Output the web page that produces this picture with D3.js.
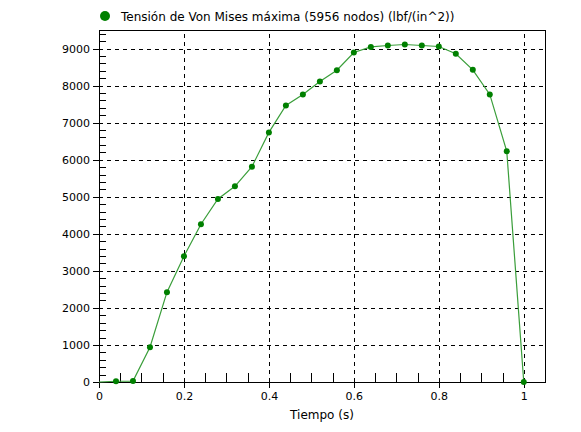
<!DOCTYPE html>
<html><head><meta charset="utf-8">
<script src="https://cdn.jsdelivr.net/npm/d3@7"></script>
<style>body{margin:0;background:#fff}svg{display:block}text{font-family:"DejaVu Sans",sans-serif;fill:#000}</style>
</head><body><svg id="c" width="581" height="432"></svg>
<script>
const times = [0,0.04,0.08,0.12,0.16,0.20,0.24,0.28,0.32,0.36,0.40,0.44,0.48,0.52,0.56,0.60,0.64,0.68,0.72,0.76,0.80,0.84,0.88,0.92,0.96,1.0];
const stress = [0,20,25,940,2425,3395,4258,4940,5282,5810,6737,7464,7761,8111,8416,8892,9044,9081,9108,9081,9054,8860,8424,7761,6225,0];
const xTicks = [0,0.2,0.4,0.6,0.8,1];
const yTicks = [0,1000,2000,3000,4000,5000,6000,7000,8000,9000];
const seriesName = "Tensión de Von Mises máxima (5956 nodos) (lbf/(in^2))";
const xTitle = "Tiempo (s)";

const svg = d3.select("#c");
const L=99, T=30, R=545, B=382;
const x = d3.scaleLinear().domain([0,1.05]).range([L,R]);
const y = d3.scaleLinear().domain([0,9500]).range([B,T]);

// grid
const g = svg.append("g").attr("stroke","#000").attr("stroke-dasharray","4,4").attr("shape-rendering","crispEdges");
xTicks.filter(d=>d>0).forEach(d=>g.append("line").attr("x1",Math.round(x(d))+0.5).attr("x2",Math.round(x(d))+0.5).attr("y1",B).attr("y2",T));
yTicks.filter(d=>d>0).forEach(d=>g.append("line").attr("y1",Math.round(y(d))+0.5).attr("y2",Math.round(y(d))+0.5).attr("x1",L).attr("x2",R));

// frame
svg.append("rect").attr("x",L+0.5).attr("y",T+0.5).attr("width",R-L).attr("height",B-T).attr("fill","none").attr("stroke","#000").attr("shape-rendering","crispEdges");

// x axis
const xAxis = d3.axisBottom(x).tickValues(xTicks).tickFormat(d=>d3.format("")(d)).tickSize(6).tickPadding(4);
svg.append("g").attr("transform",`translate(0,${B})`).call(xAxis);
const xMinor = d3.axisBottom(x).tickValues(d3.range(1,21).map(i=>i*0.05).filter(v=>Math.abs(v*5-Math.round(v*5))>1e-6)).tickSize(-9).tickFormat("");
svg.append("g").attr("transform",`translate(0,${B})`).call(xMinor);
// y axis
const yAxis = d3.axisLeft(y).tickValues(yTicks).tickFormat(d3.format("d")).tickSize(6).tickPadding(3);
svg.append("g").attr("transform",`translate(${L},0)`).call(yAxis);
const yMinor = d3.axisLeft(y).tickValues(d3.range(1,48).map(i=>i*200).filter(v=>v%1000!==0)).tickSize(-7).tickFormat("");
svg.append("g").attr("transform",`translate(${L},0)`).call(yMinor);
svg.selectAll(".domain").remove();
svg.selectAll(".tick line").attr("stroke","#000").attr("shape-rendering","crispEdges");
svg.selectAll(".tick text").attr("font-size",11).attr("font-family","DejaVu Sans, sans-serif").attr("fill","#000");

// axis title
svg.append("text").attr("x",(L+R)/2).attr("y",419).attr("text-anchor","middle").attr("font-size",12).text(xTitle);

// series
const pts = times.map((t,i)=>[t,stress[i]]);
svg.append("path").datum(pts)
  .attr("fill","none").attr("stroke","#3a9e3a").attr("stroke-width",1.2)
  .attr("d",d3.line().x(d=>x(d[0])).y(d=>y(d[1])));
svg.append("g").selectAll("circle").data(pts.slice(1)).join("circle")
  .attr("cx",d=>x(d[0])).attr("cy",d=>y(d[1])).attr("r",3).attr("fill","#008000");

// legend
svg.append("circle").attr("cx",105).attr("cy",16).attr("r",5).attr("fill","#008000");
svg.append("text").attr("x",121).attr("y",21).attr("font-size",12).text(seriesName);
</script></body></html>
